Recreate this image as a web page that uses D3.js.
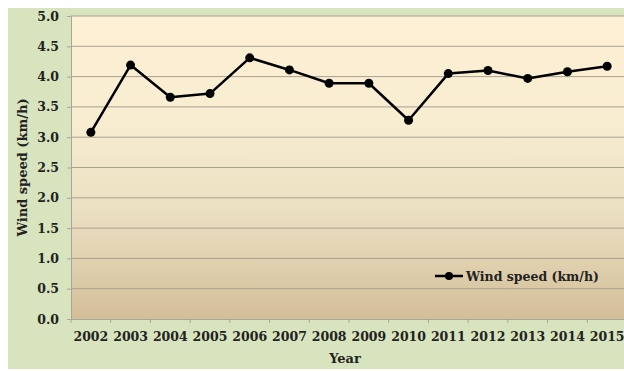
<!DOCTYPE html>
<html>
<head>
<meta charset="utf-8">
<script src="https://cdn.jsdelivr.net/npm/d3@7"></script>
<style>
  body { margin: 0; background: #fff; }
  svg { display: block; }
</style>
</head>
<body>
<div id="chart"></div>
<script>
// data
var years = ["2002", "2003", "2004", "2005", "2006", "2007", "2008",
             "2009", "2010", "2011", "2012", "2013", "2014", "2015"];
var windSpeed = [3.08, 4.19, 3.66, 3.72, 4.31, 4.11, 3.89,
                 3.89, 3.28, 4.05, 4.10, 3.97, 4.08, 4.17];
var yTicks = [0, 0.5, 1, 1.5, 2, 2.5, 3, 3.5, 4, 4.5, 5];

var width = 624, height = 371;
var plot = { left: 71, top: 16, right: 627, bottom: 319 };
var font = "'DejaVu Serif', 'Liberation Serif', serif";

var svg = d3.select('#chart')
    .append('svg')
    .attr('width', width)
    .attr('height', height);

// background gradient for the plot area
var defs = svg.append('defs');
var grad = defs.append('linearGradient')
    .attr('id', 'plotbg')
    .attr('x1', 0).attr('y1', 0).attr('x2', 0).attr('y2', 1);
grad.append('stop').attr('offset', '0%').attr('stop-color', '#fdf0d5');
grad.append('stop').attr('offset', '35%').attr('stop-color', '#f8ecd1');
grad.append('stop').attr('offset', '65%').attr('stop-color', '#ebdfc1');
grad.append('stop').attr('offset', '100%').attr('stop-color', '#d3bf99');

// outer green chart area
svg.append('rect')
    .attr('x', 8).attr('y', 8)
    .attr('width', width - 8).attr('height', 361)
    .attr('fill', '#d8e4bd');

svg.append('rect')
    .attr('x', plot.left).attr('y', plot.top)
    .attr('width', plot.right - plot.left)
    .attr('height', plot.bottom - plot.top)
    .attr('fill', 'url(#plotbg)');

var x = d3.scaleBand()
    .domain(years)
    .range([plot.left, plot.right]);

var y = d3.scaleLinear()
    .domain([0, 5])
    .range([plot.bottom, plot.top]);

// gridlines
svg.append('g')
    .selectAll('line')
    .data(yTicks.slice(1))
    .enter()
    .append('line')
    .attr('x1', plot.left).attr('x2', plot.right)
    .attr('y1', function (d) { return y(d); })
    .attr('y2', function (d) { return y(d); })
    .attr('stroke', '#a8a291')
    .attr('stroke-width', 1);

// y axis
var yAxis = svg.append('g')
    .attr('transform', 'translate(' + plot.left + ',0)')
    .call(d3.axisLeft(y).tickValues(yTicks).tickSize(4).tickPadding(8)
        .tickFormat(d3.format('.1f')));
yAxis.select('.domain').attr('stroke', '#aaa69a');
yAxis.selectAll('line').attr('stroke', '#aaa69a');
yAxis.selectAll('text')
    .attr('font-family', font)
    .attr('font-weight', 'bold')
    .attr('font-size', '12.5px')
    .attr('fill', '#222');

// x axis
var xAxis = svg.append('g')
    .attr('transform', 'translate(0,' + plot.bottom + ')')
    .call(d3.axisBottom(x).tickSize(0).tickPadding(13));
xAxis.select('.domain').attr('stroke', '#aaa69a');
xAxis.selectAll('text')
    .attr('font-family', font)
    .attr('font-weight', 'bold')
    .attr('font-size', '12.5px')
    .attr('fill', '#222');

// category boundary ticks
svg.append('g')
    .selectAll('line')
    .data(years)
    .enter()
    .append('line')
    .attr('x1', function (d) { return x(d); })
    .attr('x2', function (d) { return x(d); })
    .attr('y1', plot.bottom).attr('y2', plot.bottom + 4)
    .attr('stroke', '#aaa69a');

// axis titles
svg.append('text')
    .attr('transform', 'translate(27,' + ((plot.top + plot.bottom) / 2) + ') rotate(-90)')
    .attr('text-anchor', 'middle')
    .attr('font-family', font)
    .attr('font-weight', 'bold')
    .attr('font-size', '13px')
    .attr('fill', '#222')
    .text('Wind speed (km/h)');

svg.append('text')
    .attr('x', 345).attr('y', 363)
    .attr('text-anchor', 'middle')
    .attr('font-family', font)
    .attr('font-weight', 'bold')
    .attr('font-size', '13px')
    .attr('fill', '#222')
    .text('Year');

// the series
var pts = years.map(function (d, i) { return { year: d, value: windSpeed[i] }; });

var line = d3.line()
    .x(function (d) { return x(d.year) + x.bandwidth() / 2; })
    .y(function (d) { return y(d.value); });

svg.append('path')
    .datum(pts)
    .attr('d', line)
    .attr('fill', 'none')
    .attr('stroke', '#000')
    .attr('stroke-width', 2.5)
    .attr('stroke-linejoin', 'round');

svg.selectAll('.dot')
    .data(pts)
    .enter()
    .append('circle')
    .attr('class', 'dot')
    .attr('cx', function (d) { return x(d.year) + x.bandwidth() / 2; })
    .attr('cy', function (d) { return y(d.value); })
    .attr('r', 4.5)
    .attr('fill', '#000');

// legend
var legend = svg.append('g').attr('transform', 'translate(435,276)');
legend.append('line')
    .attr('x1', 0).attr('x2', 28)
    .attr('stroke', '#000').attr('stroke-width', 2.5);
legend.append('circle')
    .attr('cx', 14).attr('r', 4)
    .attr('fill', '#000');
legend.append('text')
    .attr('x', 31).attr('y', 4.5)
    .attr('font-family', font)
    .attr('font-weight', 'bold')
    .attr('font-size', '12.5px')
    .attr('fill', '#222')
    .text('Wind speed (km/h)');
</script>
</body>
</html>
